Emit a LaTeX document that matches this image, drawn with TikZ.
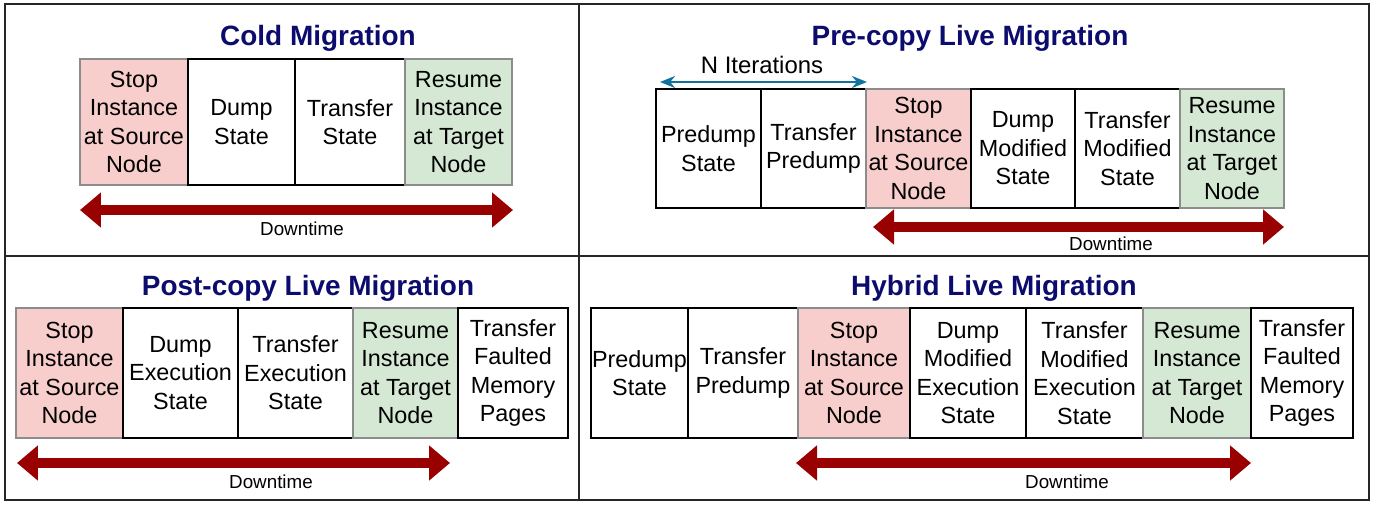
\documentclass[tikz,border=0pt]{standalone}
\usepackage{fontspec}
\setmainfont{Liberation Sans}
\usetikzlibrary{arrows.meta, positioning}
\definecolor{cPink}{RGB}{248,206,204}
\definecolor{cGreen}{RGB}{213,232,212}
\definecolor{cTitle}{RGB}{12,12,110}
\definecolor{cDown}{RGB}{153,0,0}
\definecolor{cIter}{RGB}{16,115,158}
\tikzset{
	stepbox/.style={rectangle, draw=black, line width=0.7pt, inner sep=0pt, align=center,
		font=\fontsize{13.3}{16.2}\selectfont},
	stopbox/.style={stepbox, draw=black!45, fill=cPink},
	resumebox/.style={stepbox, draw=black!45, fill=cGreen},
	paneltitle/.style={font=\fontsize{15.9}{18}\selectfont\bfseries, text=cTitle},
	downarrow/.style={{Triangle[length=0.42cm, width=0.68cm]}-{Triangle[length=0.42cm, width=0.68cm]},
		line width=0.2cm, draw=cDown},
	downlabel/.style={font=\fontsize{10.7}{12}\selectfont},
	iterarrow/.style={{Stealth[length=0.3cm, width=0.24cm]}-{Stealth[length=0.3cm, width=0.24cm]},
		line width=1.4pt, draw=cIter},
	frame/.style={draw=black!85, line width=1.3pt},
}
\begin{document}
\begin{tikzpicture}[x=0.02cm, y=-0.02cm]
	\useasboundingbox (0,0) rectangle (1376,504);
	% panels
	\draw[frame] (5,4) rectangle (1369,500);
	\draw[frame] (579,4) -- (579,500);
	\draw[frame] (5,256) -- (1369,256);

	% cold migration
	\node[paneltitle] (tcold) at (318,38) {Cold Migration};
	\node[stopbox, minimum width=2.16cm, minimum height=2.52cm] (c1) at (134,122) {Stop\\Instance\\at Source\\Node};
	\node[stepbox, minimum width=2.14cm, minimum height=2.52cm] (c2) at (241.5,122) {Dump\\State};
	\node[stepbox, minimum width=2.2cm, minimum height=2.52cm]  (c3) at (350,122) {Transfer\\State};
	\node[resumebox, minimum width=2.14cm, minimum height=2.52cm] (c4) at (458.5,122) {Resume\\Instance\\at Target\\Node};
	\coordinate (cl) at (80,210);
	\coordinate (cr) at (513,210);
	\draw[downarrow] (cl) -- (cr);
	\node[downlabel] (cdown) at (302,229) {Downtime};

	% pre-copy live migration
	\node[paneltitle] (tpre) at (970,38) {Pre-copy Live Migration};
	\node[stepbox, minimum width=2.1cm, minimum height=2.38cm]   (p1) at (708.5,148.5) {Predump\\State};
	\node[stepbox, minimum width=2.1cm, minimum height=2.38cm]   (p2) at (813.5,148.5) {Transfer\\Predump};
	\node[stopbox, minimum width=2.1cm, minimum height=2.38cm]   (p3) at (918.5,148.5) {Stop\\Instance\\at Source\\Node};
	\node[stepbox, minimum width=2.08cm, minimum height=2.38cm]  (p4) at (1023,148.5) {Dump\\Modified\\State};
	\node[stepbox, minimum width=2.1cm, minimum height=2.38cm]   (p5) at (1127.5,148.5) {Transfer\\Modified\\State};
	\node[resumebox, minimum width=2.08cm, minimum height=2.38cm] (p6) at (1232,148.5) {Resume\\Instance\\at Target\\Node};
	\coordinate (il) at (660,82);
	\coordinate (ir) at (867,82);
	\draw[iterarrow] (il) -- (ir);
	\node[font=\fontsize{13.6}{16}\selectfont] (piter) at (762,65) {N Iterations};
	\coordinate (pl) at (873,227);
	\coordinate (pr) at (1284,227);
	\draw[downarrow] (pl) -- (pr);
	\node[downlabel] (pdown) at (1111,244) {Downtime};

	% post-copy live migration
	\node[paneltitle] (tpost) at (308,288) {Post-copy Live Migration};
	\node[stopbox, minimum width=2.14cm, minimum height=2.6cm]  (q1) at (69.5,373) {Stop\\Instance\\at Source\\Node};
	\node[stepbox, minimum width=2.3cm, minimum height=2.6cm]   (q2) at (180.5,373) {Dump\\Execution\\State};
	\node[stepbox, minimum width=2.3cm, minimum height=2.6cm]   (q3) at (295.5,373) {Transfer\\Execution\\State};
	\node[resumebox, minimum width=2.1cm, minimum height=2.6cm] (q4) at (405.5,373) {Resume\\Instance\\at Target\\Node};
	\node[stepbox, minimum width=2.2cm, minimum height=2.6cm]   (q5) at (513,373) {Transfer\\Faulted\\Memory\\Pages};
	\coordinate (ql) at (17,463);
	\coordinate (qr) at (450,463);
	\draw[downarrow] (ql) -- (qr);
	\node[downlabel] (qdown) at (271,482) {Downtime};

	% hybrid live migration
	\node[paneltitle] (thyb) at (994,288) {Hybrid Live Migration};
	\node[stepbox, minimum width=1.94cm, minimum height=2.6cm]   (h1) at (639.5,373) {Predump\\State};
	\node[stepbox, minimum width=2.2cm, minimum height=2.6cm]    (h2) at (743,373) {Transfer\\Predump};
	\node[stopbox, minimum width=2.24cm, minimum height=2.6cm]   (h3) at (854,373) {Stop\\Instance\\at Source\\Node};
	\node[stepbox, minimum width=2.32cm, minimum height=2.6cm]   (h4) at (968,373) {Dump\\Modified\\Execution\\State};
	\node[stepbox, minimum width=2.34cm, minimum height=2.6cm]   (h5) at (1084.5,373) {Transfer\\Modified\\Execution\\State};
	\node[resumebox, minimum width=2.16cm, minimum height=2.6cm] (h6) at (1197,373) {Resume\\Instance\\at Target\\Node};
	\node[stepbox, minimum width=2.04cm, minimum height=2.6cm]   (h7) at (1302,373) {Transfer\\Faulted\\Memory\\Pages};
	\coordinate (hl) at (796,463);
	\coordinate (hr) at (1251,463);
	\draw[downarrow] (hl) -- (hr);
	\node[downlabel] (hdown) at (1067,482) {Downtime};
\end{tikzpicture}
\end{document}
